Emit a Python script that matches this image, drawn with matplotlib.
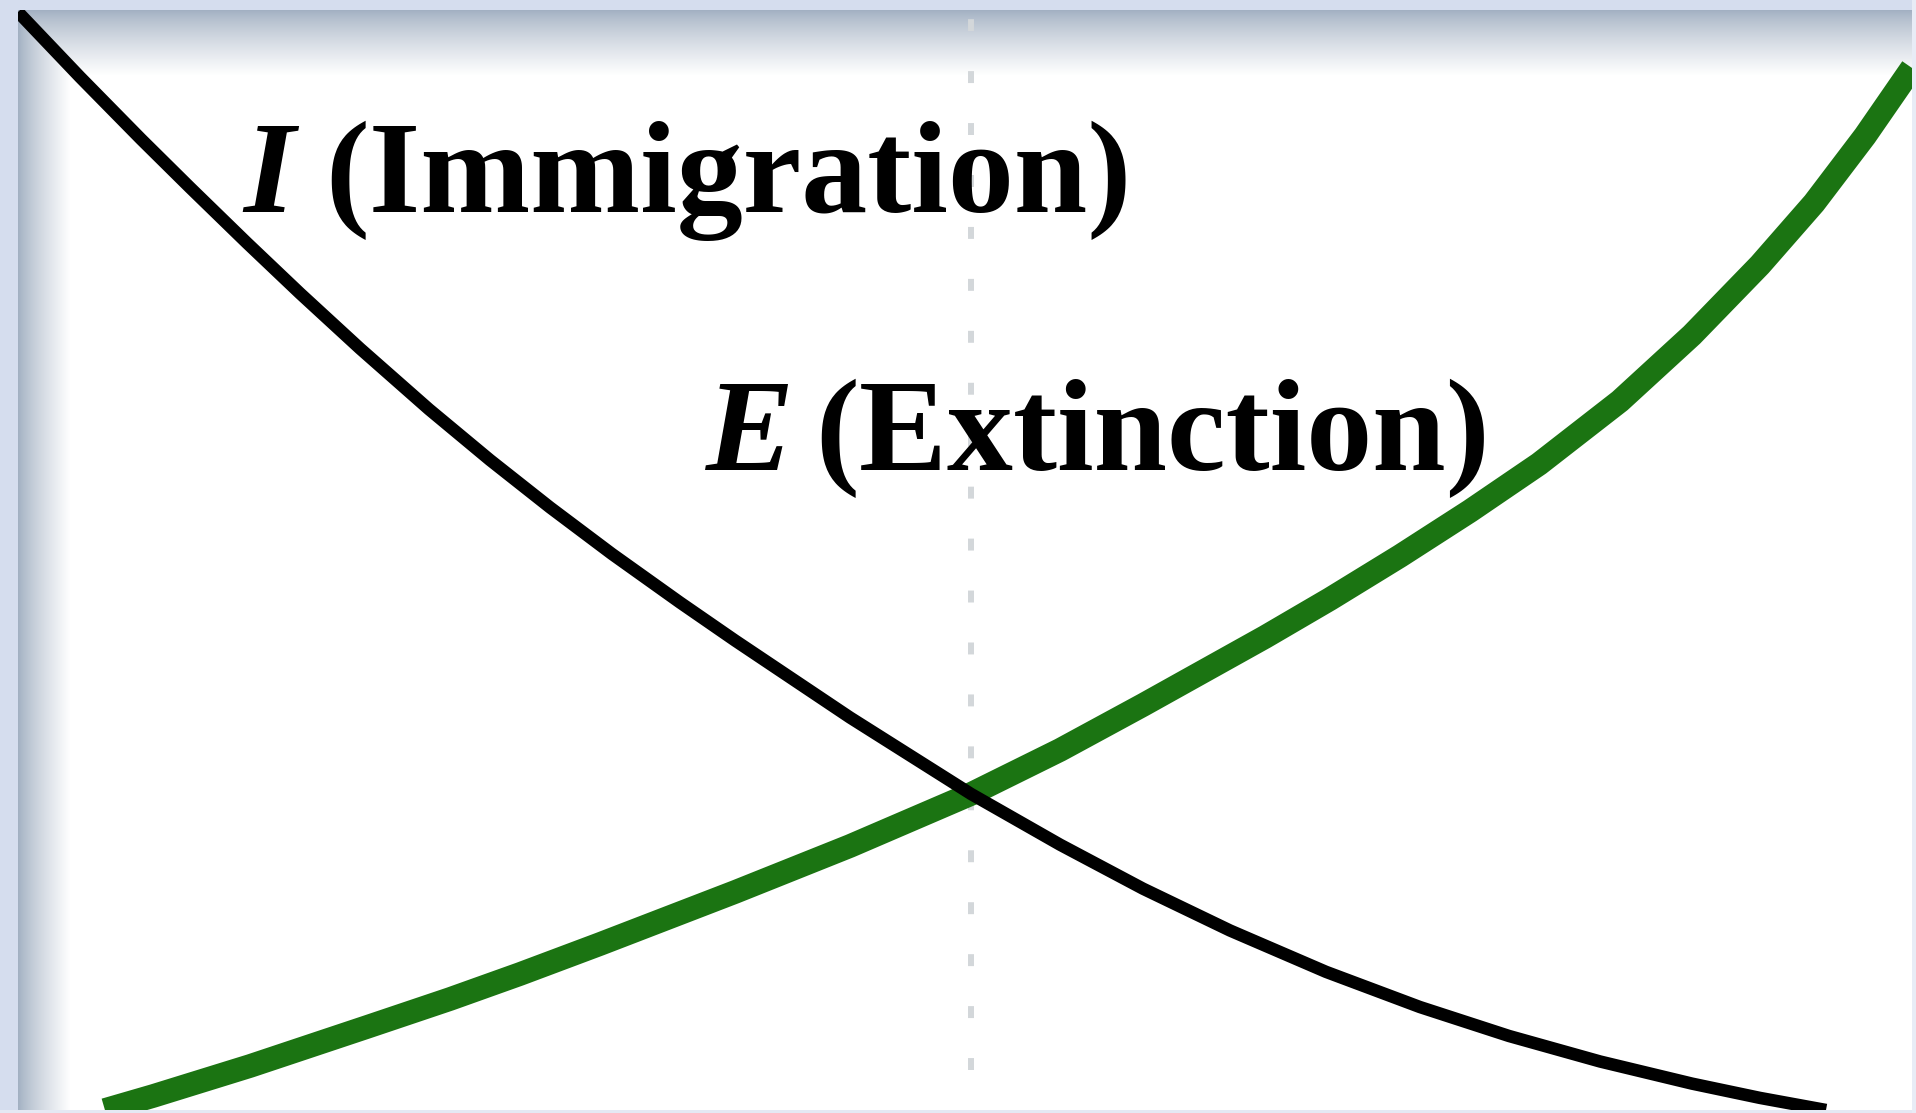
import numpy as np
import matplotlib
matplotlib.use("Agg")
import matplotlib.pyplot as plt

# Immigration rate I (falls with number of species on the island)
imm_species = [0.00, 3.27, 6.49, 9.08, 12.09, 14.89, 18.06, 21.70, 24.92, 28.09,
               31.36, 34.95, 37.86, 43.93, 50.32, 55.02, 59.40, 63.99, 69.06,
               74.02, 78.72, 83.53, 88.38, 91.97, 95.46]
immigration = [99.82, 93.91, 88.27, 83.86, 78.82, 74.24, 69.22, 63.70, 59.09, 54.78,
               50.55, 46.14, 42.68, 35.68, 28.73, 24.12, 20.12, 16.32, 12.56,
               9.36, 6.73, 4.41, 2.40, 1.10, 0.00]

# Extinction rate E (rises with number of species)
ext_species = [4.59, 7.13, 12.25, 18.43, 22.81, 26.50, 30.73, 37.86, 43.93, 50.32,
               55.02, 59.40, 65.84, 69.27, 72.97, 76.66, 80.31, 84.58, 88.38,
               91.97, 94.83, 97.52, 100.00]
extinction = [0.00, 1.27, 4.00, 7.55, 10.09, 12.36, 15.09, 19.82, 24.00, 28.73,
              32.73, 36.82, 43.00, 46.45, 50.36, 54.45, 58.73, 64.45, 70.45,
              76.82, 82.45, 88.55, 94.73]

# equilibrium number of species, where the two curves cross
s_equilibrium = 50.3

W, H = 1916, 1113
DPI = 100

plt.rcParams["lines.scale_dashes"] = False

fig = plt.figure(figsize=(W / DPI, H / DPI), dpi=DPI)

# window-like frame: lavender border with a soft grey shadow fading to white
lavender = np.array([213, 221, 238]) / 255
shadow = np.array([162, 176, 194]) / 255

rows = np.arange(H)[:, None]
cols = np.arange(W)[None, :]
t_top = np.clip((rows - 10) / 65.0, 0, 1) ** 0.8
t_left = np.clip((cols - 18) / 52.0, 0, 1) ** 0.8
top_shade = shadow + (1 - shadow) * t_top[..., None]
left_shade = shadow + (1 - shadow) * t_left[..., None]
bg = np.minimum(np.broadcast_to(top_shade, (H, W, 3)),
                np.broadcast_to(left_shade, (H, W, 3))).copy()
bg[:10, :] = lavender
bg[:, :18] = lavender
bg[H - 3:, :] = np.array([228, 233, 244]) / 255
bg[:, W - 4:] = np.array([232, 236, 246]) / 255

ax_bg = fig.add_axes([0, 0, 1, 1])
ax_bg.imshow(bg, aspect="auto", interpolation="bilinear")
ax_bg.axis("off")

ax = fig.add_axes([18 / W, 3 / H, 1894 / W, 1100 / H])
ax.patch.set_alpha(0)
ax.set_xlim(0, 100)
ax.set_ylim(0, 100)
ax.axis("off")

# dotted marker at the equilibrium
ax.plot([s_equilibrium, s_equilibrium], [0, 100], color="#d3d7da",
        linewidth=4.3, linestyle=(8.6, (8.6, 28.8)),
        dash_capstyle="butt", zorder=1)

ax.plot(imm_species, immigration, color="black", linewidth=9,
        solid_capstyle="butt", solid_joinstyle="round", zorder=3)
ax.plot(ext_species, extinction, color="#1b7412", linewidth=17,
        solid_capstyle="butt", solid_joinstyle="round", zorder=2)

serif = "Liberation Serif"
fs = 95
ax.text(11.9, 81.6, "I", fontsize=fs, family=serif, weight="bold", style="italic",
        ha="left", va="baseline", zorder=4)
ax.text(16.2, 81.6, "(Immigration)", fontsize=fs, family=serif, weight="bold",
        ha="left", va="baseline", zorder=4)
ax.text(36.3, 58.2, "E", fontsize=fs, family=serif, weight="bold", style="italic",
        ha="left", va="baseline", zorder=4)
ax.text(42.1, 58.2, "(Extinction)", fontsize=fs, family=serif, weight="bold",
        ha="left", va="baseline", zorder=4)

fig.savefig("out.png", dpi=DPI)
